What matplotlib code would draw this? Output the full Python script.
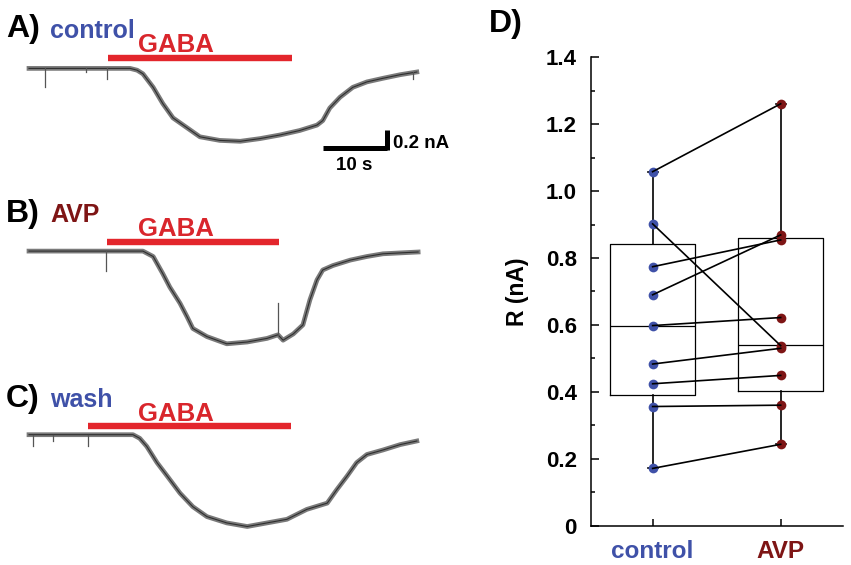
import numpy as np
import matplotlib
matplotlib.use("Agg")
import matplotlib.pyplot as plt

plt.rcParams['font.family'] = ['Liberation Sans', 'DejaVu Sans']
plt.rcParams['font.weight'] = 'bold'

# ---- traces (time in s, current in nA relative to baseline) ----
trace_names = ['control', 'AVP', 'wash']
trace_letters = ['A)', 'B)', 'C)']
trace_colors = ['#3f51a8', '#7e1515', '#3f51a8']

t_A = [0, 15.8, 16.9, 17.8, 19.4, 20.9, 22.5, 24.7, 26.7, 29.8, 33.0, 36.1, 39.2,
       42.3, 45.0, 45.9, 47.0, 48.6, 50.6, 52.8, 55.3, 58.0, 60.6]
i_A = [0, 0, -0.02, -0.06, -0.21, -0.39, -0.55, -0.66, -0.76, -0.80, -0.81, -0.78,
       -0.74, -0.69, -0.63, -0.58, -0.44, -0.32, -0.21, -0.15, -0.11, -0.07, -0.04]

t_B = [0, 17.8, 19.4, 20.9, 22.0, 23.6, 24.7, 25.6, 27.8, 30.9, 34.1, 37.2, 38.9,
       39.7, 41.3, 42.8, 43.9, 45.0, 45.9, 47.5, 50.2, 52.8, 55.3, 58.0, 60.8]
i_B = [0, 0, -0.06, -0.25, -0.40, -0.58, -0.73, -0.86, -0.95, -1.03, -1.01, -0.97,
       -0.93, -0.99, -0.92, -0.82, -0.54, -0.32, -0.21, -0.16, -0.10, -0.06, -0.03,
       -0.02, -0.01]

t_C = [0, 16.25, 17.3, 18.4, 20.0, 21.6, 23.6, 25.6, 27.8, 30.9, 34.1, 37.2, 40.3,
       43.4, 46.6, 48.1, 49.7, 51.2, 52.8, 55.3, 58.0, 60.6]
i_C = [0, 0, -0.04, -0.13, -0.31, -0.46, -0.65, -0.80, -0.91, -0.98, -1.02, -0.98,
       -0.94, -0.83, -0.76, -0.61, -0.46, -0.31, -0.22, -0.17, -0.11, -0.07]

# artefact spikes: time, start value, tip value
spk_A = [(2.5, 0, -0.21), (8.9, 0, -0.04), (12.2, 0, -0.12), (60.0, -0.04, -0.12)]
spk_B = [(12.0, 0, -0.22), (38.9, -0.93, -0.58)]
spk_C = [(0.6, 0, -0.12), (3.8, 0, -0.07), (9.2, 0, -0.13)]

# GABA application (s)
gaba_on = [12.3, 12.2, 9.2]
gaba_off = [41.1, 39.1, 40.9]

# ---- panel D data ----
control_R = [1.058, 0.902, 0.774, 0.690, 0.598, 0.483, 0.424, 0.356, 0.171]
avp_R = [1.261, 0.538, 0.854, 0.869, 0.622, 0.530, 0.449, 0.360, 0.243]
box_q1 = [0.389, 0.403]
box_med = [0.597, 0.540]
box_q3 = [0.841, 0.859]
box_lo = [0.171, 0.243]
box_hi = [1.058, 1.261]
groups = ['control', 'AVP']
group_colors = ['#3f51a8', '#7e1515']

W, H = 851, 565
fig = plt.figure(figsize=(W / 100, H / 100), dpi=100)


def fx(x):
    return x / W


def fy(y):
    return 1 - y / H


# left side: one axes, 6.4 px per s and 90 px per nA
ax = fig.add_axes([0, 0, 480 / W, 1])
ax.set_xlim(-29 / 6.4, (480 - 29) / 6.4)
ax.set_ylim(-H / 90, 0)
ax.axis('off')

offsets = [-0.76, -2.79, -4.83]
bar_rel = [0.114, 0.103, 0.092]
traces = [(t_A, i_A, spk_A), (t_B, i_B, spk_B), (t_C, i_C, spk_C)]

for k, (tt, ii, spk) in enumerate(traces):
    off = offsets[k]
    yy = np.array(ii) + off
    ax.plot(tt, yy, color='#7a7a7a', lw=3.4, solid_joinstyle='round')
    ax.plot(tt, yy, color='#2e2e2e', lw=0.8)
    for ts, y0, y1 in spk:
        ax.plot([ts, ts], [y0 + off, y1 + off], color='#555555', lw=0.9)
    by = off + bar_rel[k]
    ax.plot([gaba_on[k], gaba_off[k]], [by, by], color='#e3262c', lw=4.6,
            solid_capstyle='butt')
    ax.text(23.0, by + 0.063, 'GABA', color='#d9262c', fontsize=18.5,
            fontweight='bold', ha='center', va='baseline')

# scale bar on trace A
sb = offsets[0] - 0.886
ax.plot([45.9, 55.9], [sb, sb], color='black', lw=3.6, solid_capstyle='butt')
ax.plot([55.9, 55.9], [sb - 0.02, sb + 0.2], color='black', lw=3.6,
        solid_capstyle='butt')
ax.text(56.8, offsets[0] - 0.83, '0.2 nA', fontsize=13.5, ha='left', va='center')
ax.text(50.8, offsets[0] - 1.08, '10 s', fontsize=13.5, ha='center', va='center')

# panel labels
base_y = [37.5, 222.3, 406.7]
for k in range(3):
    fig.text(fx(6), fy(base_y[k]), trace_letters[k], fontsize=23,
             fontweight='bold', va='baseline', ha='left')
    fig.text(fx(50), fy(base_y[k]), trace_names[k], fontsize=18,
             fontweight='bold', color=trace_colors[k], va='baseline', ha='left')
fig.text(fx(489), fy(32), 'D)', fontsize=23, fontweight='bold',
         va='baseline', ha='left')

# panel D
axd = fig.add_axes([590.7 / W, (H - 525.6) / H, 252.3 / W, 468.3 / H])
stats = []
for j in range(2):
    stats.append(dict(med=box_med[j], q1=box_q1[j], q3=box_q3[j],
                      whislo=box_lo[j], whishi=box_hi[j], fliers=[]))
axd.bxp(stats, positions=[1, 2], widths=0.664, showfliers=False,
        boxprops=dict(color='black', lw=0.9),
        medianprops=dict(color='black', lw=0.9),
        whiskerprops=dict(color='black', lw=1.2),
        capprops=dict(color='black', lw=1.2), capwidths=0.08)

axd.plot([1] * len(control_R), control_R, 'o', color=group_colors[0], ms=7,
         mec='none', zorder=3)
axd.plot([2] * len(avp_R), avp_R, 'o', color=group_colors[1], ms=7,
         mec='none', zorder=3)
for c, a in zip(control_R, avp_R):
    axd.plot([1, 2], [c, a], color='black', lw=1.2, zorder=4)

axd.set_xlim(0.516, 2.487)
axd.set_ylim(0, 1.4)
axd.spines['top'].set_visible(False)
axd.spines['right'].set_visible(False)
axd.spines['left'].set_linewidth(1.1)
axd.spines['bottom'].set_linewidth(1.1)
yt = [0, 0.2, 0.4, 0.6, 0.8, 1.0, 1.2, 1.4]
axd.set_yticks(yt)
axd.set_yticklabels(['0', '0.2', '0.4', '0.6', '0.8', '1.0', '1.2', '1.4'])
axd.set_yticks(np.arange(0.1, 1.4, 0.2), minor=True)
axd.tick_params(axis='y', which='major', direction='in', length=5.5, width=1.1,
                labelsize=16, pad=10)
axd.tick_params(axis='y', which='minor', direction='in', length=3, width=1.1)
axd.set_xticks([1, 2])
axd.set_xticklabels(groups)
axd.tick_params(axis='x', direction='in', length=5, width=1.1, labelsize=17.5,
                pad=10.5)
for lab, col in zip(axd.get_xticklabels(), group_colors):
    lab.set_color(col)
    lab.set_fontweight('bold')
for lab in axd.get_yticklabels():
    lab.set_fontweight('bold')
axd.set_ylabel('R (nA)', fontsize=16.5, fontweight='bold', labelpad=12)

fig.savefig('out.png', dpi=100)
